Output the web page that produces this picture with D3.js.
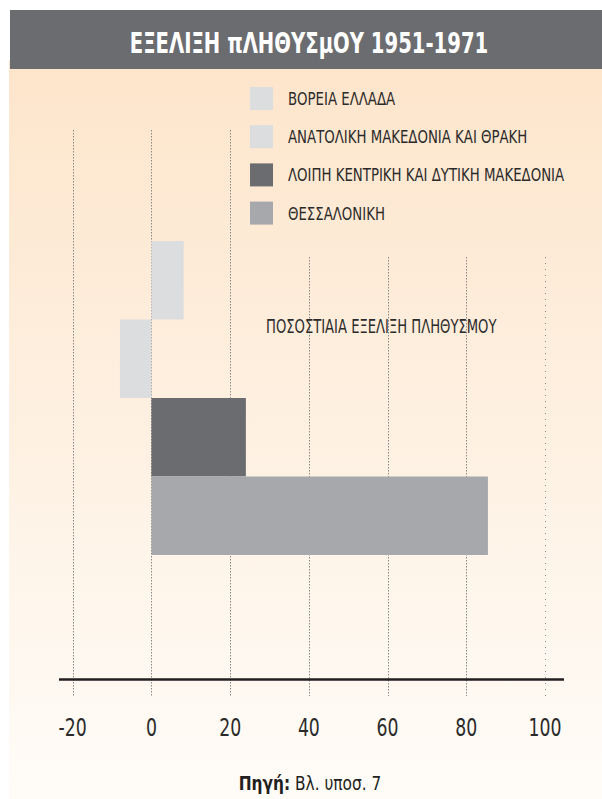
<!DOCTYPE html>
<html>
<head>
<meta charset="utf-8">
<script src="https://cdn.jsdelivr.net/npm/d3@7"></script>
<style>
  body { margin: 0; background: #fff; }
  svg { display: block; }
  text { font-family: "Liberation Sans Narrow", "DejaVu Sans Condensed", sans-serif; }
</style>
</head>
<body>
<div id="chart"></div>
<script>
// data
const regions = ['ΒΟΡΕΙΑ ΕΛΛΑΔΑ', 'ΑΝΑΤΟΛΙΚΗ ΜΑΚΕΔΟΝΙΑ ΚΑΙ ΘΡΑΚΗ', 'ΛΟΙΠΗ ΚΕΝΤΡΙΚΗ ΚΑΙ ΔΥΤΙΚΗ ΜΑΚΕΔΟΝΙΑ', 'ΘΕΣΣΑΛΟΝΙΚΗ'];
const change = [8.2, -8, 24, 85.5];
const colors = ['#dcdddf', '#dcdddf', '#6b6c70', '#a7a8ac'];
const ticks = [-20, 0, 20, 40, 60, 80, 100];

const W = 602, H = 799;
const svg = d3.select('#chart').append('svg')
  .attr('width', W).attr('height', H);

// the original uses a very condensed face, so squeeze text horizontally
function squeeze(g, px, py, sx) {
  return g.append('g').attr('transform', `translate(${px},${py}) scale(${sx},1)`);
}

// background gradient
const grad = svg.append('defs').append('linearGradient')
  .attr('id', 'bg').attr('x1', 0).attr('y1', 0).attr('x2', 0).attr('y2', 1);
grad.append('stop').attr('offset', '0%').attr('stop-color', '#fde5cb');
grad.append('stop').attr('offset', '100%').attr('stop-color', '#fffcf8');

svg.append('rect').attr('x', 9).attr('y', 60).attr('width', W - 9).attr('height', H - 60)
  .attr('fill', 'url(#bg)');

// header
svg.append('rect').attr('x', 10).attr('y', 10).attr('width', W - 10).attr('height', 59)
  .attr('fill', '#6b6c70');
squeeze(svg, 309, 53, 0.78).append('text')
  .attr('text-anchor', 'middle')
  .attr('fill', '#fff')
  .style('font-weight', 'bold')
  .style('font-size', '28px')
  .text('ΕΞΕΛΙΞΗ πΛΗΘΥΣμΟΥ 1951-1971');

const x = d3.scaleLinear().domain([-20, 100]).range([72.7, 545]);
const y = d3.scaleBand().domain(regions).range([241, 555]).padding(0);

// grid lines
svg.append('g')
  .selectAll('line')
  .data(ticks)
  .join('line')
  .attr('x1', d => Math.round(x(d)) + 0.5)
  .attr('x2', d => Math.round(x(d)) + 0.5)
  .attr('y1', d => d <= 20 ? 130 : 257)
  .attr('y2', 696)
  .attr('stroke', '#8a8784')
  .attr('stroke-width', 1)
  .attr('stroke-dasharray', d => d === 100 ? '1,5' : '1.5,1.5');

// bars
svg.append('g')
  .selectAll('rect')
  .data(regions)
  .join('rect')
  .attr('x', (d, i) => x(Math.min(0, change[i])))
  .attr('y', d => y(d))
  .attr('width', (d, i) => Math.abs(x(change[i]) - x(0)))
  .attr('height', y.bandwidth())
  .attr('fill', (d, i) => colors[i]);

// axis
svg.append('line')
  .attr('x1', 59).attr('x2', 564)
  .attr('y1', 679.5).attr('y2', 679.5)
  .attr('stroke', '#231f20').attr('stroke-width', 2.5);

svg.append('g')
  .selectAll('g')
  .data(ticks)
  .join('g')
  .attr('transform', d => `translate(${x(d)},736) scale(0.8,1)`)
  .append('text')
  .attr('text-anchor', 'middle')
  .attr('fill', '#2b2a2a')
  .style('font-size', '24px')
  .text(d => d);

// legend
const legend = svg.append('g')
  .selectAll('g')
  .data(regions)
  .join('g')
  .attr('transform', (d, i) => `translate(250,${87 + i * 38.2})`);
legend.append('rect')
  .attr('width', 23).attr('height', 23)
  .attr('fill', (d, i) => colors[i]);
legend.append('text')
  .attr('transform', 'translate(38,18) scale(0.87,1)')
  .attr('fill', '#2b2a2a')
  .style('font-size', '17px')
  .text(d => d);

// annotation
squeeze(svg, 266, 333, 0.77).append('text')
  .attr('fill', '#2b2a2a')
  .style('font-size', '19px')
  .text('ΠΟΣΟΣΤΙΑΙΑ ΕΞΕΛΙΞΗ ΠΛΗΘΥΣΜΟΥ');

// source
const src = squeeze(svg, 310, 790, 0.9).append('text')
  .attr('text-anchor', 'middle')
  .attr('fill', '#231f20')
  .style('font-size', '19px');
src.append('tspan').style('font-weight', 'bold').text('Πηγή:');
src.append('tspan').text(' Βλ. υποσ. 7');
</script>
</body>
</html>
